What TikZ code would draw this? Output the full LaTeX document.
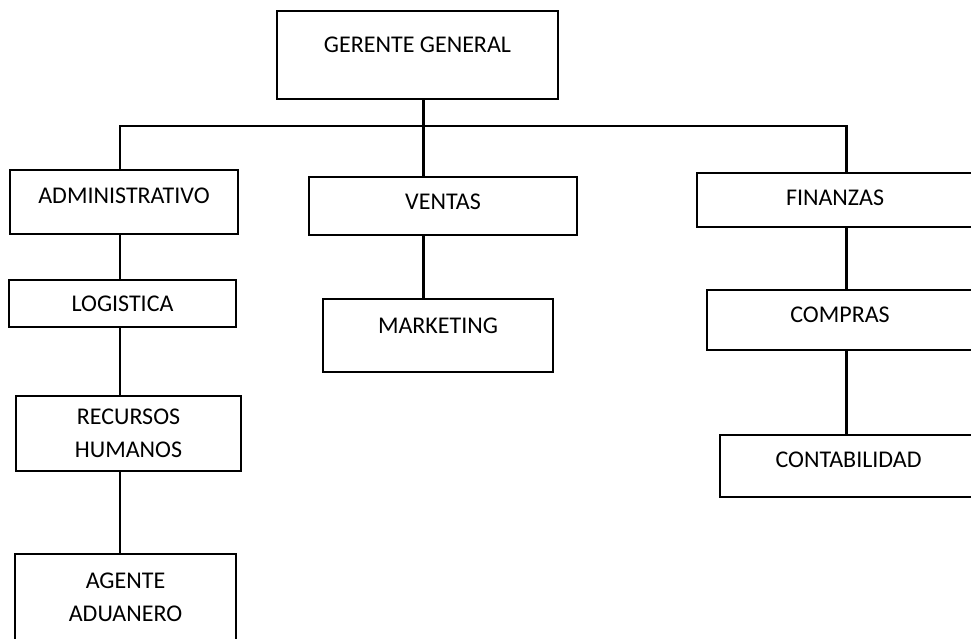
\documentclass[tikz,border=0pt]{standalone}
\usepackage{fontspec}
\setmainfont{Carlito}

\begin{document}
\begin{tikzpicture}[x=0.75pt, y=-0.75pt, font={\fontsize{18}{24.75}\selectfont},
  box/.style 2 args={draw, line width=0.8pt, inner sep=0pt, align=center,
    minimum width=#1*0.75pt, minimum height=#2*0.75pt},
  lift/.style={text height=11.6pt, text depth=#1},
  link/.style={line width=1.7pt},
  bus/.style={line width=2.1pt}]
\useasboundingbox (0,0) rectangle (971,639);
% Cajas
\node[box={281}{88}, lift=15.75pt] (ger) at (417.5,55) {GERENTE GENERAL};
\node[box={228}{64}, lift=9.75pt] (adm) at (124,202) {ADMINISTRATIVO};
\node[box={268}{58}, lift=6.75pt] (ven) at (443,206) {VENTAS};
\node[box={276}{54}, lift=3pt] (fin) at (835,200) {FINANZAS};
\node[box={227}{47}, lift=0pt] (log) at (122.5,303.5) {LOGISTICA};
\node[box={225}{75}] (rec) at (128.5,433.5) {RECURSOS\\HUMANOS};
\node[box={221}{87}] (age) at (125.5,597.5) {AGENTE\\ADUANERO};
\node[box={230}{73}, lift=15pt] (mkt) at (438,335.5) {MARKETING};
\node[box={266}{60}, lift=8.25pt] (com) at (840,320) {COMPRAS};
\node[box={257}{62}, lift=9.75pt] (con) at (848.5,466) {CONTABILIDAD};
% Lineas
\coordinate (colA) at (120,0);
\coordinate (colB) at (423.5,0);
\coordinate (colC) at (846.5,0);
\coordinate (bar) at (0,126);
\draw[bus] (adm.north -| colA) -- (colA |- bar) -- (colC |- bar) -- (fin.north -| colC);
\draw[link] (ger.south -| colB) -- (ven.north -| colB);
\foreach \a/\b/\c in {adm/log/colA, log/rec/colA, rec/age/colA, ven/mkt/colB, fin/com/colC, com/con/colC}
  \draw[link] (\a.south -| \c) -- (\b.north -| \c);
\end{tikzpicture}
\end{document}
